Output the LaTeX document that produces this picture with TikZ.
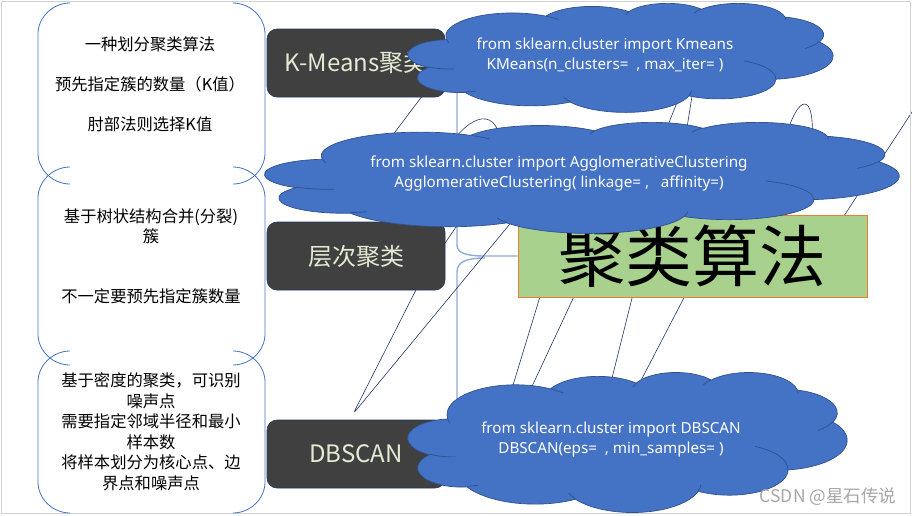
\documentclass[tikz,border=0pt]{standalone}
\usepackage{fontspec}
\setmainfont{Noto Sans CJK SC}
\newfontfamily\codefont{Noto Sans}
\usepackage{tikz}
\definecolor{cloudblue}{HTML}{4472C4}
\definecolor{cloudline}{HTML}{2F528F}
\definecolor{boxgray}{HTML}{404040}
\definecolor{boxink}{HTML}{E2EBD3}
\definecolor{rootgreen}{HTML}{A9D18E}
\definecolor{rootorange}{HTML}{ED7D31}
\definecolor{linkblue}{HTML}{8FAADC}
\definecolor{tailink}{HTML}{203864}
\pgfdeclarelayer{background}
\pgfsetlayers{background,main}
\tikzset{
  algbox/.style={draw=tailink, fill=boxgray, rounded corners=10pt, text=boxink, font=\fontsize{24}{28}\selectfont, minimum width=178pt, minimum height=68pt, inner sep=0pt, line width=0.6pt},
  rootbox/.style={draw=rootorange, fill=rootgreen, minimum width=349pt, minimum height=82pt, inner sep=0pt, font=\fontsize{67}{72}\selectfont, line width=0.8pt},
  cloudbody/.style={draw=cloudline, fill=cloudblue, line width=0.7pt},
  codetext/.style={text=white, align=center, font=\codefont\fontsize{15.2}{20}\selectfont},
  notes/.style={align=center, font=\fontsize{16.3}{20.5}\selectfont},
  brace/.style={draw=cloudblue, line width=0.8pt},
  link/.style={draw=linkblue, line width=1.4pt},
  tail/.style={draw=tailink, line width=0.6pt},
  % one lobe of the cloud outline: x radius, y radius, start angle, sweep
  lobe/.style n args={4}{x radius=#1, y radius=#2,
    start angle={atan2(#1*sin(#3),#2*cos(#3))},
    delta angle={mod(atan2(#1*sin(#3+#4),#2*cos(#3+#4))-atan2(#1*sin(#3),#2*cos(#3))+720,360)}}
}
% cloud in a box: left, top, width, height
\newcommand\codecloud[4]{%
  \begin{scope}[shift={(#1,#2)}, x=#3pt/432, y=-#4pt/432]
    \draw[cloudbody] (39.00,143.70)
      arc[lobe={67.53}{91.90}{-190.4875}{123.7805}]
      arc[lobe={53.33}{72.67}{-144.1024}{89.9452}]
      arc[lobe={43.65}{59.45}{-145.8079}{99.7230}]
      arc[lobe={48.57}{65.95}{-130.9861}{117.2417}]
      arc[lobe={53.33}{72.73}{-78.7089}{109.0269}]
      arc[lobe={67.75}{92.20}{-46.2673}{130.2690}]
      arc[lobe={57.85}{78.67}{0.6250}{114.0333}]
      arc[lobe={67.52}{92.15}{22.4516}{115.1726}]
      arc[lobe={77.20}{105.43}{66.2426}{75.7110}]
      arc[lobe={43.60}{59.18}{-274.9421}{146.7356}]
      arc[lobe={43.45}{59.45}{-246.8285}{152.5189}] -- cycle;
    \draw[cloudbody, fill=none]
      (46.93,261.77) arc[lobe={43.45}{59.45}{86.7420}{26.4295}]
      (69.28,348.99) arc[lobe={43.60}{59.18}{73.6105}{11.4475}]
      (164.78,390.90) arc[lobe={67.52}{92.15}{137.6242}{14.0811}]
      (288.27,347.51) arc[lobe={67.52}{92.15}{6.4533}{15.9984}]
      (341.29,229.54) arc[lobe={57.85}{78.67}{-70.2924}{70.9174}]
      (417.98,153.54) arc[lobe={53.33}{72.73}{30.3180}{27.7515}]
      (383.24,54.26) arc[lobe={48.57}{65.95}{-13.7443}{14.8589}]
      (290.78,39.52) arc[lobe={48.57}{65.95}{-149.1815}{18.1954}]
      (221.41,47.20) arc[lobe={43.65}{59.45}{-163.4943}{17.6864}]
      (140.00,51.92) arc[lobe={67.53}{91.90}{-66.7070}{12.3194}]
      (41.27,157.89) arc[lobe={67.53}{91.90}{157.6544}{11.8582}];
  \end{scope}}

\begin{document}
\begin{tikzpicture}[x=1pt,y=-1pt]
  \useasboundingbox (0,0) rectangle (912,515);
  \draw[gray!35, line width=1pt] (1.5,1.5) rectangle (910.5,513.5);

  % bracket pairs on the left
  \foreach \t/\b in {3/184, 167/365, 351/513} {
    \draw[brace] (70,\t) .. controls (53,\t) and (38,\t+14) .. (38,\t+31) -- (38,\b-31)
      .. controls (38,\b-14) and (53,\b) .. (70,\b);
    \draw[brace] (233,\t) .. controls (250,\t) and (265,\t+14) .. (265,\t+31) -- (265,\b-31)
      .. controls (265,\b-14) and (250,\b) .. (233,\b);
  }
  \node[notes, font=\fontsize{16.3}{40}\selectfont] (kmnote) at (150,84) {一种划分聚类算法\\预先指定簇的数量（K值）\\肘部法则选择K值};
  \node[notes] (hcnote) at (151,256) {基于树状结构合并(分裂)\\簇\\[39pt]不一定要预先指定簇数量};
  \node[notes] (dbnote) at (151,432) {基于密度的聚类，可识别\\噪声点\\需要指定邻域半径和最小\\样本数\\将样本划分为核心点、边\\界点和噪声点};

  % algorithm boxes and root
  \node[algbox] (km) at (356,63) {K-Means聚类};
  \node[algbox] (hc) at (356,256) {层次聚类};
  \node[algbox] (db) at (356,454) {DBSCAN};
  \node[rootbox] (root) at (692.5,256) {聚类算法};

  % clouds
  \codecloud{408}{3}{425}{109}
  \node[codetext] (kmcode) at (605,55) {from sklearn.cluster import Kmeans\\KMeans(n\_clusters=\ \ , max\_iter= )};
  \codecloud{265}{122}{634}{111}
  \node[codetext] (hccode) at (559,174) {from sklearn.cluster import AgglomerativeClustering\\AgglomerativeClustering( linkage= ,\ \ \ affinity=)};
  \codecloud{408}{372}{439}{140}
  \node[codetext] (dbcode) at (611,439) {from sklearn.cluster import DBSCAN\\DBSCAN(eps=\ \ , min\_samples= )};

  \node[gray!70, font=\fontsize{17.5}{20}\selectfont] (mark) at (828,497) {CSDN @星石传说};

  \begin{pgfonlayer}{background}
    \coordinate (linktop) at (457,80);
    \coordinate (linkbot) at (457,400);
    \draw[link] (linktop) -- (457,245) .. controls (457,253) and (466,256) .. (485,256) -- (root.west |- 0,256);
    \draw[link] (485,258) .. controls (466,258) and (457,262) .. (457,272) -- (linkbot);

    \coordinate (kmfoot) at (423,95);
    \coordinate (kmhide) at (370,165);
    \draw[tail] (kmfoot) -- (kmhide);
    \coordinate (hcneck) at (478,195);
    \coordinate (hcside) at (430,265);
    \draw[tail] (hcneck) -- (hcside);
    \draw[tail] (447,150) .. controls (470,112) and (500,105) .. (501,150);
    \draw[tail] (693,90) -- (685,140);
    \draw[tail] (682,90) -- (662,140);
    \draw[tail] (785,140) .. controls (798,92) and (815,92) .. (812,140);
    \coordinate (edge) at (914,109);
    \draw[tail] (edge) -- (840,222);
    \coordinate (loopfoot) at (420,282);
    \coordinate (looptip) at (353,414);
    \draw[tail, rounded corners=5pt] (loopfoot) -- (looptip) -- (root.north west);
    \draw[tail] (542,290) -- (510,395);
    \draw[tail] (577,290) -- (528,395);
    \draw[tail] (634,290) -- (609,390);
    \draw[tail] (688,290) -- (636,390);
  \end{pgfonlayer}
\end{tikzpicture}
\end{document}
